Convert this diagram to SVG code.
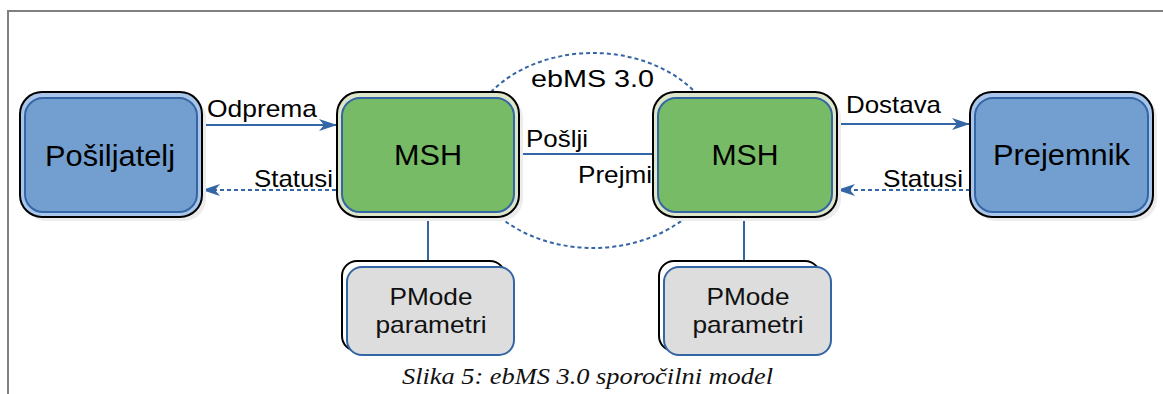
<svg xmlns="http://www.w3.org/2000/svg" width="1163" height="394" viewBox="0 0 1163 394">
<defs>
<marker id="arr" viewBox="0 0 18 12" refX="17" refY="6" markerWidth="18" markerHeight="12" markerUnits="userSpaceOnUse" orient="auto">
<path d="M0,0 L18,6 L0,12 L5,6 Z" fill="#3465a4"/>
</marker>
<style>
.frame{stroke:#808080;stroke-width:2;fill:none}
.shadow{fill:#ececec}
.outerB{fill:#a9c5ea;stroke:#000;stroke-width:2}
.innerB{fill:#729fcf;stroke:#3465a4;stroke-width:2}
.outerG{fill:#dde6c9;stroke:#000;stroke-width:2}
.innerG{fill:#77bb66;stroke:#3465a4;stroke-width:2}
.pback{fill:#fff;stroke:#000;stroke-width:2}
.pfront{fill:#dddddd;stroke:#3465a4;stroke-width:2}
.line{stroke:#3465a4;stroke-width:2;fill:none}
.dash{stroke:#3465a4;stroke-width:2;fill:none;stroke-dasharray:4 3}
.big{font-family:"Liberation Sans",Arial,sans-serif;font-size:30px;fill:#000;text-anchor:middle}
.lbl{font-family:"Liberation Sans",Arial,sans-serif;font-size:24px;fill:#000}
.pm{font-family:"Liberation Sans",Arial,sans-serif;font-size:24px;fill:#111;text-anchor:middle}
.cap{font-family:"Liberation Serif","DejaVu Serif",serif;font-style:italic;font-size:24px;fill:#111}
</style>
</defs>
<path class="frame" d="M8,394 V11 H1163"/>
<ellipse class="dash" cx="593" cy="150.5" rx="127.5" ry="97.5"/>
<g id="connectors">
<line class="line" x1="202" y1="125" x2="336" y2="125" marker-end="url(#arr)"/>
<line class="dash" x1="336" y1="190" x2="203" y2="190" marker-end="url(#arr)"/>
<line class="line" x1="837" y1="124" x2="969" y2="124" marker-end="url(#arr)"/>
<line class="dash" x1="970" y1="190" x2="838" y2="190" marker-end="url(#arr)"/>
<line class="line" x1="519" y1="154" x2="653" y2="154"/>
<line class="line" x1="428" y1="217" x2="428" y2="262"/>
<line class="line" x1="744" y1="217" x2="744" y2="262"/>
<text class="lbl" x="207" y="117" textLength="110" lengthAdjust="spacingAndGlyphs">Odprema</text>
<text class="lbl" x="254" y="187" textLength="79" lengthAdjust="spacingAndGlyphs">Statusi</text>
<text class="lbl" x="846" y="113" textLength="95" lengthAdjust="spacingAndGlyphs">Dostava</text>
<text class="lbl" x="883" y="187" textLength="80" lengthAdjust="spacingAndGlyphs">Statusi</text>
<text class="lbl" x="531" y="87" textLength="123" lengthAdjust="spacingAndGlyphs">ebMS 3.0</text>
<text class="lbl" x="526" y="147" textLength="62" lengthAdjust="spacingAndGlyphs">Pošlji</text>
<text class="lbl" x="578" y="183" textLength="74" lengthAdjust="spacingAndGlyphs">Prejmi</text>
</g>
<g id="posiljatelj">
<rect class="shadow" x="24" y="96" width="182" height="125" rx="22"/>
<rect class="outerB" x="20" y="92" width="182" height="125" rx="22"/>
<rect class="innerB" x="25" y="98" width="172" height="114" rx="18"/>
<text class="big" x="110" y="166" textLength="130" lengthAdjust="spacingAndGlyphs">Pošiljatelj</text>
</g>
<g id="msh1">
<rect class="shadow" x="341" y="96" width="182" height="125" rx="22"/>
<rect class="outerG" x="337" y="92" width="182" height="125" rx="22"/>
<rect class="innerG" x="342" y="98" width="172" height="114" rx="18"/>
<text class="big" x="428" y="165" textLength="68" lengthAdjust="spacingAndGlyphs">MSH</text>
</g>
<g id="msh2">
<rect class="shadow" x="657" y="96" width="184" height="125" rx="22"/>
<rect class="outerG" x="653" y="92" width="184" height="125" rx="22"/>
<rect class="innerG" x="658" y="98" width="174" height="114" rx="18"/>
<text class="big" x="745" y="165" textLength="67" lengthAdjust="spacingAndGlyphs">MSH</text>
</g>
<g id="prejemnik">
<rect class="shadow" x="974" y="96" width="183" height="125" rx="22"/>
<rect class="outerB" x="970" y="92" width="183" height="125" rx="22"/>
<rect class="innerB" x="975" y="98" width="173" height="114" rx="18"/>
<text class="big" x="1061.5" y="165" textLength="137" lengthAdjust="spacingAndGlyphs">Prejemnik</text>
</g>
<g id="pmode1">
<rect class="pback" x="342" y="261" width="163" height="90" rx="15"/>
<rect class="pfront" x="347" y="267" width="167" height="88" rx="15"/>
<text class="pm" x="431" y="305" textLength="83" lengthAdjust="spacingAndGlyphs">PMode</text>
<text class="pm" x="431" y="333" textLength="111" lengthAdjust="spacingAndGlyphs">parametri</text>
</g>
<g id="pmode2">
<rect class="pback" x="659" y="261" width="161" height="90" rx="15"/>
<rect class="pfront" x="664" y="267" width="167" height="88" rx="15"/>
<text class="pm" x="748" y="305" textLength="83" lengthAdjust="spacingAndGlyphs">PMode</text>
<text class="pm" x="748" y="333" textLength="111" lengthAdjust="spacingAndGlyphs">parametri</text>
</g>
<text class="cap" x="402" y="384" textLength="371" lengthAdjust="spacingAndGlyphs">Slika 5: ebMS 3.0 sporočilni model</text>
</svg>
